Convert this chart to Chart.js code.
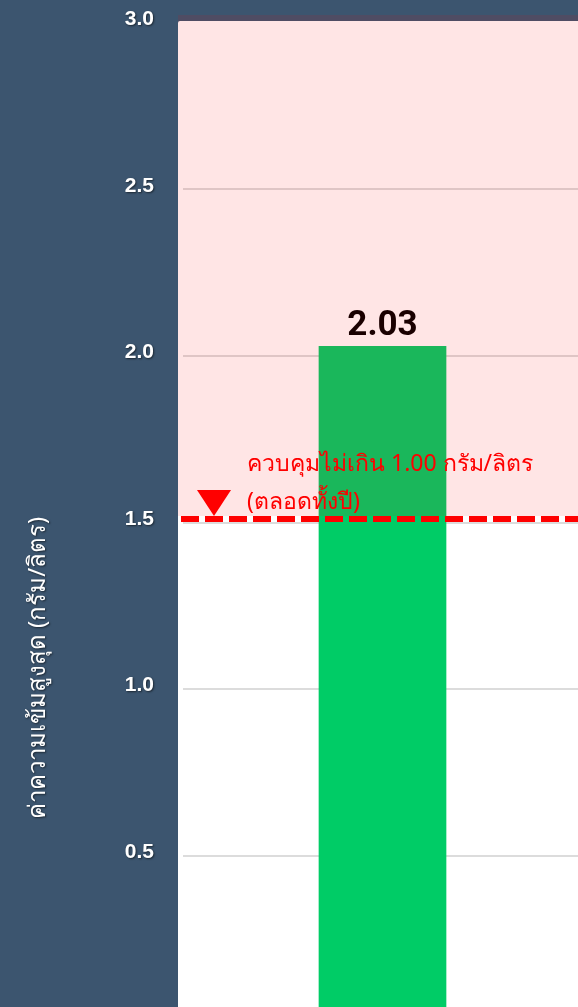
<!DOCTYPE html>
<html>
<head>
<meta charset="utf-8">
<script src="https://cdn.jsdelivr.net/npm/chart.js@4/dist/chart.umd.min.js"></script>
<style>
  html, body { margin: 0; padding: 0; background: #3c556f; overflow: hidden; }
  canvas { display: block; }
</style>
</head>
<body>
<canvas id="chart" width="582" height="1032"></canvas>
<script>
const categories = [''];
const maxValues = [2.03];
const limitValue = 1.5;
const yTicks = [0.5, 1.0, 1.5, 2.0, 2.5, 3.0];
const limitNote = ['ควบคุมไม่เกิน 1.00 กรัม/ลิตร', '(ตลอดทั้งปี)'];
const yTitle = 'ค่าความเข้มสูงสุด (กรัม/ลิตร)';

const BG = '#3c556f';
const RED = '#ff0000';

// dark page + white plot panel
const panelPlugin = {
  id: 'panel',
  beforeDraw(chart) {
    const { ctx, chartArea: a } = chart;
    ctx.save();
    ctx.fillStyle = BG;
    ctx.fillRect(0, 0, chart.width, chart.height);
    ctx.fillStyle = '#ffffff';
    ctx.beginPath();
    ctx.roundRect(a.left - 5, a.top - 2, a.right - a.left + 10, a.bottom - a.top + 12, 2);
    ctx.fill();
    ctx.restore();
  }
};

// limit line, marker, note and bar value
const limitPlugin = {
  id: 'limit',
  afterDatasetsDraw(chart) {
    const { ctx, chartArea: a, scales: { y } } = chart;
    const ly = y.getPixelForValue(limitValue) - 3.5;
    ctx.save();

    ctx.strokeStyle = RED;
    ctx.lineWidth = 6;
    ctx.setLineDash([18, 6]);
    ctx.beginPath();
    ctx.moveTo(a.left - 2, ly);
    ctx.lineTo(a.right, ly);
    ctx.stroke();
    ctx.setLineDash([]);

    const tx = a.left + 31;
    ctx.fillStyle = RED;
    ctx.beginPath();
    ctx.moveTo(tx - 17, ly - 29);
    ctx.lineTo(tx + 17, ly - 29);
    ctx.lineTo(tx, ly - 3);
    ctx.closePath();
    ctx.fill();

    ctx.font = '23px "Noto Sans", sans-serif';
    ctx.textAlign = 'left';
    ctx.textBaseline = 'alphabetic';
    ctx.fillText(limitNote[0], a.left + 64, ly - 48);
    ctx.fillText(limitNote[1], a.left + 64, ly - 10);

    const meta = chart.getDatasetMeta(0);
    meta.data.forEach((bar, i) => {
      ctx.fillStyle = '#000000';
      ctx.font = 'bold 35px Roboto, sans-serif';
      ctx.textAlign = 'center';
      ctx.fillText(maxValues[i].toFixed(2), bar.x, bar.y - 11);
    });
    ctx.restore();
  },
  afterDraw(chart) {
    const { ctx, chartArea: a, scales: { y } } = chart;
    ctx.save();

    // translucent red band above the limit
    const top = y.getPixelForValue(y.max) - 8;
    const bottom = y.getPixelForValue(limitValue) - 6.5;
    ctx.fillStyle = 'rgba(255, 0, 0, 0.1)';
    ctx.fillRect(a.left - 5, top, a.right - a.left + 5, bottom - top);

    // tick labels
    ctx.shadowColor = 'rgba(0, 0, 0, 0.55)';
    ctx.shadowOffsetX = 1;
    ctx.shadowOffsetY = 1;
    ctx.shadowBlur = 2;
    ctx.fillStyle = '#ffffff';
    ctx.font = 'bold 21px "Liberation Sans", Arial, sans-serif';
    ctx.textAlign = 'right';
    ctx.textBaseline = 'middle';
    yTicks.forEach(v => {
      ctx.fillText(v.toFixed(1), a.left - 29, y.getPixelForValue(v) - 3.5);
    });

    // axis title
    ctx.translate(38, 668);
    ctx.rotate(-Math.PI / 2);
    ctx.font = '24px "Noto Sans", sans-serif';
    ctx.textAlign = 'center';
    ctx.fillText(yTitle, 0, 0);
    ctx.restore();
  }
};

new Chart(document.getElementById('chart'), {
  type: 'bar',
  data: {
    labels: categories,
    datasets: [{
      data: maxValues,
      backgroundColor: '#00cc66',
      borderWidth: 0,
      categoryPercentage: 0.8,
      barPercentage: 0.4,
    }],
  },
  options: {
    responsive: false,
    animation: false,
    layout: { padding: { top: 23, bottom: 10, left: 0, right: 0 } },
    plugins: {
      legend: { display: false },
      tooltip: { enabled: false },
    },
    scales: {
      x: { display: false },
      y: {
        min: 0,
        max: 3,
        ticks: { stepSize: 0.5, display: false },
        border: { display: false },
        grid: {
          drawTicks: false,
          lineWidth: 2,
          color: c => (c.tick.value > 0 && c.tick.value < 3 ? '#dcdcdc' : 'transparent'),
        },
        afterFit: s => { s.width = 183; },
      },
    },
  },
  plugins: [panelPlugin, limitPlugin],
});
</script>
</body>
</html>
